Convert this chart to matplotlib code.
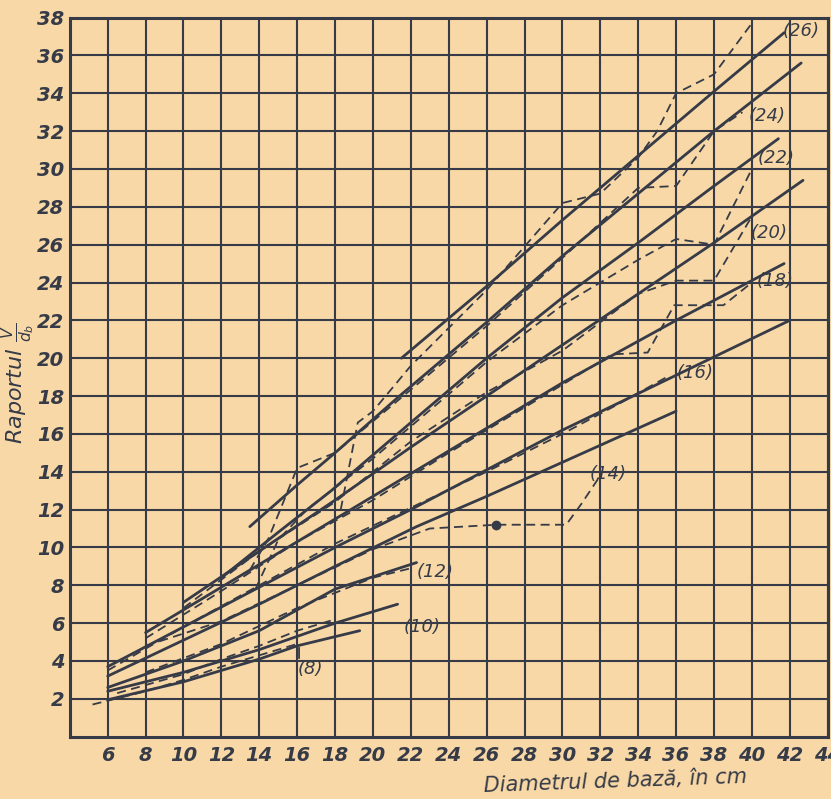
import matplotlib
matplotlib.use("Agg")
import matplotlib.pyplot as plt

# height classes (m) shown as "(h)" labels
classes = [8, 10, 12, 14, 16, 18, 20, 22, 24, 26]

# smoothed (solid) curves: diameter (cm) -> ratio V/db
solid_x = {
    8: [6, 10, 14, 16, 19.3],
    10: [6, 10, 14, 18, 21.3],
    12: [6, 10, 14, 18, 22.3],
    14: [6, 10, 14, 18, 22.3, 26, 30, 36],
    16: [6, 10, 14, 18, 22, 26, 30, 36, 42],
    18: [8, 12, 16, 20, 24, 28, 30, 36, 41.7],
    20: [10, 14, 18, 22, 26, 30, 34, 38, 42.7],
    22: [12, 15, 17.8, 22, 26, 30, 34, 38, 41.4],
    24: [13.5, 16, 18, 21.4, 26, 30, 34, 38, 42.6],
    26: [21.5, 26, 30, 34, 38, 41.7],
}
solid_y = {
    8: [1.95, 2.9, 4.1, 4.8, 5.6],
    10: [2.4, 3.4, 4.6, 6.0, 7.0],
    12: [2.6, 4.0, 5.6, 7.8, 9.2],
    14: [3.2, 5.1, 7.0, 9.0, 11.1, 12.7, 14.5, 17.2],
    16: [3.7, 5.8, 7.9, 10.0, 12.0, 14.1, 16.2, 19.1, 22.0],
    18: [5.5, 7.9, 10.3, 12.7, 15.1, 17.5, 18.7, 22.0, 25.0],
    20: [7.1, 9.8, 12.5, 15.3, 18.0, 20.7, 23.4, 26.1, 29.4],
    22: [8.4, 10.8, 13.0, 16.6, 20.0, 23.2, 26.1, 29.1, 31.6],
    24: [11.1, 13.3, 15.0, 18.0, 21.9, 25.4, 28.7, 32.0, 35.6],
    26: [20.0, 23.8, 27.3, 30.7, 34.1, 37.2],
}

# empirical (dashed) curves
dash_x = {
    8: [5.2, 8, 10, 12, 14, 16],
    10: [6.5, 10, 12, 14, 16, 18],
    12: [8, 12, 16, 20, 22],
    14: [8, 12, 16, 20, 23, 26.5, 30.2, 31.0, 32.0],
    16: [6, 10, 14, 18, 22, 26, 30, 33, 35.5],
    18: [8, 12, 16, 20, 24, 28, 30, 32.6, 34.5, 35.9, 38.5, 40],
    20: [10, 14, 18, 22, 26, 30, 34, 36, 38, 40],
    22: [13.8, 15.0, 16.5, 20, 26, 30, 34, 36, 38, 40],
    24: [13.5, 14.5, 16.0, 18, 21, 26, 30, 34, 36, 38, 39.5],
    26: [18.3, 19.2, 20, 22, 26, 30, 32, 34, 35, 36, 38, 40],
}
dash_y = {
    8: [1.7, 2.4, 3.0, 3.7, 4.3, 4.9],
    10: [2.3, 3.3, 4.1, 4.8, 5.6, 6.2],
    12: [3.4, 4.9, 6.8, 8.4, 8.9],
    14: [4.8, 6.1, 8.0, 9.9, 11.0, 11.2, 11.2, 12.3, 13.8],
    16: [3.5, 5.8, 8.0, 10.2, 12.1, 14.0, 16.0, 17.6, 19.0],
    18: [5.2, 7.7, 10.3, 12.5, 15.0, 17.4, 18.6, 20.2, 20.3, 22.8, 22.8, 24.0],
    20: [6.8, 9.8, 12.4, 15.6, 18.2, 20.4, 23.4, 24.1, 24.1, 27.5],
    22: [7.8, 10.4, 12.0, 14.7, 19.8, 22.8, 25.2, 26.3, 26.0, 30.0],
    24: [8.8, 10.5, 14.2, 15.0, 17.5, 21.7, 25.3, 29.0, 29.1, 32.0, 33.0],
    26: [12.0, 16.6, 17.2, 19.6, 23.6, 28.2, 28.7, 30.6, 32.0, 34.0, 35.0, 37.7],
}

# label anchor (where the "(h)" text sits)
label_x = [16.7, 22.6, 23.3, 32.4, 37.0, 41.2, 40.9, 41.3, 40.8, 42.6]
label_y = [3.6, 5.8, 8.7, 13.9, 19.2, 24.1, 26.6, 30.6, 32.8, 37.3]

dot_x, dot_y = [26.5], [11.2]

x_ticks = list(range(6, 45, 2))
y_ticks = list(range(2, 39, 2))

paper = "#f8d8a6"
ink = "#363b47"

fig = plt.figure(figsize=(8.31, 7.99), dpi=100, facecolor=paper)
ax = fig.add_axes([0.084, 0.078, 0.912, 0.9])
ax.set_facecolor(paper)
ax.set_xlim(4, 44)
ax.set_ylim(0, 38)

ax.set_xticks(x_ticks)
ax.set_yticks(y_ticks)
ax.set_xticklabels([str(t) for t in x_ticks], fontsize=14, style="italic",
                   color=ink, fontweight="bold")
ax.set_yticklabels([str(t) for t in y_ticks], fontsize=14, style="italic",
                   color=ink, fontweight="bold")
ax.tick_params(axis="x", length=0, pad=7)
ax.tick_params(axis="y", length=0, pad=4)
ax.grid(True, color=ink, linewidth=1.5)
ax.set_axisbelow(True)
for sp in ax.spines.values():
    sp.set_color(ink)
    sp.set_linewidth(2.2)

for i, h in enumerate(classes):
    ax.plot(solid_x[h], solid_y[h], color=ink, linewidth=2.0, solid_capstyle="round")
    ax.plot(dash_x[h], dash_y[h], color=ink, linewidth=1.3, linestyle=(0, (5, 3)))
    ax.text(label_x[i], label_y[i], f"({h})", fontsize=13, style="italic",
            color=ink, ha="center", va="center")

# leader of the (8) label
ax.annotate("", xy=(16.1, 4.85), xytext=(16.1, 4.0),
            arrowprops=dict(arrowstyle="-", color=ink, linewidth=1.3))
ax.plot(dot_x, dot_y, "o", color=ink, markersize=6)

fig.text(0.022, 0.52, r"Raportul $\frac{V}{d_b}$", rotation=90, fontsize=16,
         style="italic", color=ink, ha="center", va="center")
fig.text(0.74, 0.022, "Diametrul de bază, în cm", rotation=2, fontsize=15,
         style="italic", color=ink, ha="center", va="center")

fig.savefig("out.png", dpi=100, facecolor=paper)
